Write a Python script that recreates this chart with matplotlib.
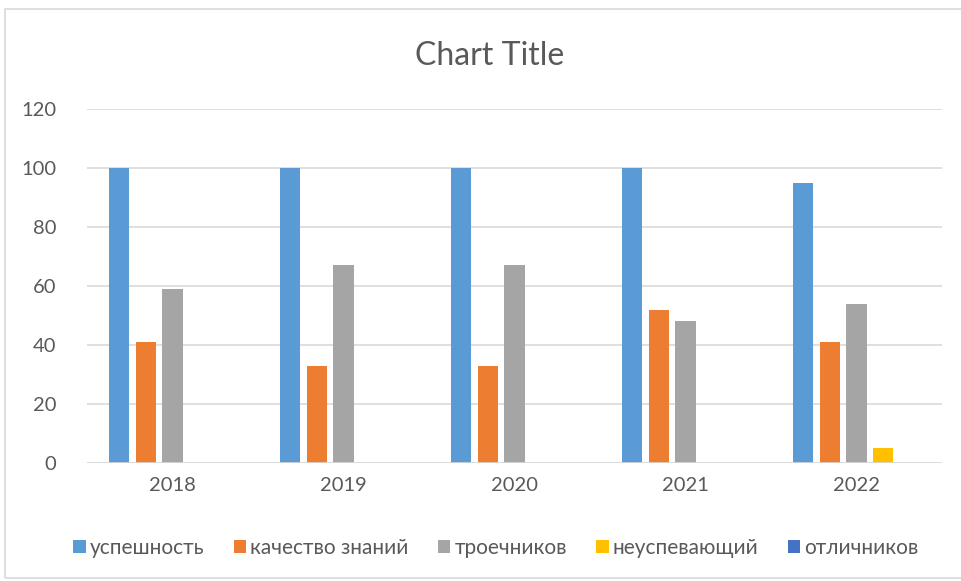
import matplotlib
matplotlib.use("Agg")
import matplotlib.pyplot as plt
import numpy as np
from matplotlib.patches import Rectangle

plt.rcParams["font.family"] = ["Lato", "DejaVu Sans"]

years = ["2018", "2019", "2020", "2021", "2022"]
series_names = ["успешность", "качество знаний", "троечников", "неуспевающий", "отличников"]
uspeshnost = [100, 100, 100, 100, 95]
kachestvo = [41, 33, 33, 52, 41]
troechnikov = [59, 67, 67, 48, 54]
neuspevayushchiy = [0, 0, 0, 0, 5]
otlichnikov = [0, 0, 0, 0, 0]
colors = ["#5B9BD5", "#ED7D31", "#A5A5A5", "#FFC000", "#4472C4"]

values = [uspeshnost, kachestvo, troechnikov, neuspevayushchiy, otlichnikov]

fig = plt.figure(figsize=(9.62, 5.81), dpi=100)
ax = fig.add_axes([87 / 962, 1 - 463 / 581, 855 / 962, 354 / 581])

# рамка всей диаграммы
fig.patches.append(Rectangle((5 / 962, 3 / 581), 1.2, 1 - 12 / 581, transform=fig.transFigure,
                             fill=False, edgecolor="#D9D9D9", lw=1.2))

x = np.arange(len(years))
pitch = 0.155
width = 0.117
for i, (name, vals, c) in enumerate(zip(series_names, values, colors)):
    ax.bar(x + (i - 2) * pitch, vals, width, color=c, label=name, zorder=3)

ax.set_xlim(-0.5, len(years) - 0.5)
ax.set_ylim(0, 120)
ax.set_yticks(range(0, 121, 20))
ax.set_xticks(x)
ax.set_xticklabels(years)
ax.grid(axis="y", color="#D9D9D9", lw=1.2, zorder=0)
for s in ax.spines.values():
    s.set_visible(False)
ax.axhline(0, color="#D9D9D9", lw=1.2, zorder=4)
ax.tick_params(length=0, labelsize=14.5, labelcolor="#595959")
ax.tick_params(axis="y", pad=22)
ax.tick_params(axis="x", pad=10)

fig.text(490 / 962, 1 - 56 / 581, "Chart Title", fontsize=23, color="#595959",
         ha="center", va="center")

ax.legend(loc="center", bbox_to_anchor=(496 / 962, 1 - 548 / 581), bbox_transform=fig.transFigure,
          ncol=5, frameon=False, fontsize=15, labelcolor="#595959", handlelength=0.6,
          handleheight=0.6, handletextpad=0.2, columnspacing=1.4)

fig.savefig("out.png")
